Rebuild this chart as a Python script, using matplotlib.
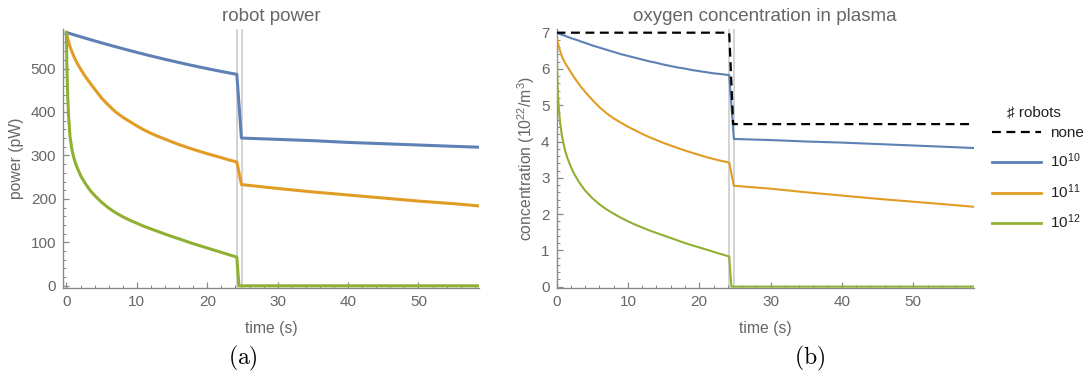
import numpy as np
import matplotlib
matplotlib.use("Agg")
import matplotlib.pyplot as plt
from matplotlib.lines import Line2D
from matplotlib.ticker import MultipleLocator

plt.rcParams['font.family'] = ['Liberation Sans', 'DejaVu Sans']
plt.rcParams['mathtext.fontset'] = 'custom'
plt.rcParams['mathtext.rm'] = 'Liberation Sans'
plt.rcParams['mathtext.it'] = 'Liberation Sans:italic'

# time samples (s): before the switch, after it
t_pre = [0, 0.05, 0.1, 0.2, 0.3, 0.5, 0.75, 1, 1.25, 1.5, 2, 2.5, 3, 3.5, 4, 5, 6, 7, 8, 9,
         10, 11, 12, 13, 14, 15, 16, 17, 18, 19, 20, 21, 22, 23, 24.2]
t_post = [24.85, 30, 35, 40, 45, 50, 55, 58.5]
t_post_zero = [24.5, 58.5]

# (a) robot power (pW)
pow_1e10_pre = [583, 582.7, 582.5, 582, 581.5, 580.5, 579.3, 578, 576.8, 575.6, 573.2, 570.8, 568.4, 566, 563.7,
                559.1, 554.5, 550.1, 545.7, 541.4, 537.2, 533.1, 529, 525.1, 521.2, 517.5, 513.8, 510.1, 506.6,
                503.2, 499.8, 496.5, 493.3, 490.2, 486.6]
pow_1e11_pre = [583, 579, 575, 568, 562, 551, 540, 530, 521, 513, 499, 486, 474.5, 463.5, 453,
                432, 415, 400, 388, 378, 368, 359, 351, 344, 337.5, 331, 325, 319.5, 314,
                309, 304, 299.5, 295, 290, 285]
pow_1e12_pre = [583, 520, 483, 428, 392, 345, 316, 298, 284, 273, 254, 240, 228, 217, 208,
                192, 179, 168, 159, 151, 144, 137, 131, 125, 119, 113.5, 108, 102.5, 97,
                92, 87, 82, 77, 72, 66]
pow_1e10_post = [340, 337, 334, 330, 327, 324, 321, 319]
pow_1e11_post = [233, 224, 216, 209, 202, 195, 189, 184]
pow_1e12_post = [0, 0]

# (b) oxygen concentration (10^22 / m^3)
ox_1e10_pre = [7.0, 7.0, 6.99, 6.99, 6.98, 6.96, 6.94, 6.93, 6.91, 6.89, 6.85, 6.82, 6.79, 6.75, 6.72,
               6.65, 6.59, 6.53, 6.47, 6.41, 6.36, 6.31, 6.26, 6.21, 6.17, 6.12, 6.08, 6.04, 6.01,
               5.97, 5.94, 5.91, 5.88, 5.86, 5.83]
ox_1e11_pre = [7.0, 6.9, 6.83, 6.72, 6.63, 6.49, 6.35, 6.24, 6.15, 6.07, 5.91, 5.76, 5.62, 5.49, 5.37,
               5.15, 4.95, 4.78, 4.64, 4.52, 4.41, 4.31, 4.21, 4.12, 4.04, 3.96, 3.89, 3.82, 3.75,
               3.69, 3.63, 3.57, 3.52, 3.47, 3.42]
ox_1e12_pre = [7.0, 6.3, 5.85, 5.3, 4.95, 4.52, 4.17, 3.92, 3.72, 3.56, 3.3, 3.1, 2.93, 2.78, 2.65,
               2.44, 2.27, 2.13, 2.01, 1.9, 1.8, 1.71, 1.63, 1.55, 1.48, 1.41, 1.34, 1.27, 1.2,
               1.14, 1.08, 1.02, 0.96, 0.9, 0.83]
ox_1e10_post = [4.07, 4.04, 4.0, 3.97, 3.93, 3.89, 3.85, 3.82]
ox_1e11_post = [2.78, 2.7, 2.6, 2.51, 2.42, 2.34, 2.26, 2.2]
ox_1e12_post = [0, 0]
t_none = [0, 24.2, 24.75, 58.5]
ox_none = [7.0, 7.0, 4.48, 4.48]

switch_times = [24.2, 24.9]
labels = ["$10^{10}$", "$10^{11}$", "$10^{12}$"]
colors = ["#5e81b5", "#e19c24", "#8fb032"]

txt = "#666666"
axc = "#8a8a8a"

fig = plt.figure(figsize=(10.87, 3.77), dpi=100)
ax1 = fig.add_axes([0.0582, 0.2361, 0.3825, 0.687])
ax2 = fig.add_axes([0.512, 0.2369, 0.384, 0.686])


def style(ax):
    for s in ["top", "right"]:
        ax.spines[s].set_visible(False)
    for s in ["left", "bottom"]:
        ax.spines[s].set_color(axc)
        ax.spines[s].set_linewidth(1.0)
    ax.tick_params(which="both", direction="in", color=axc, labelcolor=txt,
                   labelsize=11, pad=5)
    ax.tick_params(which="major", length=4, width=0.9)
    ax.tick_params(which="minor", length=2, width=0.7)
    ax.xaxis.set_major_locator(MultipleLocator(10))
    ax.xaxis.set_minor_locator(MultipleLocator(2))
    for tv in switch_times:
        ax.axvline(tv, color="#cccccc", lw=1.2, zorder=1)


series_a = [(pow_1e10_pre, t_post, pow_1e10_post),
            (pow_1e11_pre, t_post, pow_1e11_post),
            (pow_1e12_pre, t_post_zero, pow_1e12_post)]
for (pre, tp, post), c in zip(series_a, colors):
    ax1.plot(t_pre + tp, pre + post, color=c, lw=2.2, zorder=3)
style(ax1)
ax1.set_xlim(-0.45, 58.6)
ax1.set_ylim(-5, 591)
ax1.yaxis.set_major_locator(MultipleLocator(100))
ax1.yaxis.set_minor_locator(MultipleLocator(20))
ax1.set_title("robot power", color=txt, fontsize=13.5, pad=6)
ax1.set_xlabel("time (s)", color=txt, fontsize=11.3, labelpad=9)
ax1.set_ylabel("power (pW)", color=txt, fontsize=11.3, labelpad=5)

ax2.plot(t_none, ox_none, color="black", lw=1.6, ls=(0, (4, 2.5)), zorder=4)
series_b = [(ox_1e10_pre, t_post, ox_1e10_post),
            (ox_1e11_pre, t_post, ox_1e11_post),
            (ox_1e12_pre, t_post_zero, ox_1e12_post)]
for (pre, tp, post), c in zip(series_b, colors):
    ax2.plot(t_pre + tp, pre + post, color=c, lw=1.5, zorder=3)
style(ax2)
ax2.set_xlim(0, 58.5)
ax2.set_ylim(-0.03, 7.1)
ax2.yaxis.set_major_locator(MultipleLocator(1))
ax2.yaxis.set_minor_locator(MultipleLocator(0.2))
ax2.set_title("oxygen concentration in plasma", color=txt, fontsize=13.5, pad=6)
ax2.set_xlabel("time (s)", color=txt, fontsize=11.3, labelpad=9)
ax2.set_ylabel("concentration (10$^{22}$/m$^3$)", color=txt, fontsize=11.3, labelpad=3)

# legend (title drawn separately so it sits close to the entries)
handles = [Line2D([], [], color="black", lw=1.6, ls=(0, (4, 2.5)))]
handles += [Line2D([], [], color=c, lw=2.0) for c in colors]
leg = fig.legend(handles, ["none"] + labels,
                 loc="upper left", bbox_to_anchor=(0.913, 0.666),
                 frameon=False, fontsize=11,
                 handlelength=3.2, handletextpad=0.6, labelspacing=0.78,
                 borderpad=0, borderaxespad=0)
for t in leg.get_texts():
    t.set_color("#222222")
fig.text(1034 / 1087, 1 - 112 / 377, "\u266f robots", fontsize=11,
         color="#222222", ha="center", va="center")

fig.text(243 / 1087, 1 - 358 / 377, r"$\mathrm{(a)}$", fontsize=17,
         ha="center", va="center", math_fontfamily="cm")
fig.text(810 / 1087, 1 - 358 / 377, r"$\mathrm{(b)}$", fontsize=17,
         ha="center", va="center", math_fontfamily="cm")

fig.savefig("out.png", dpi=100)
